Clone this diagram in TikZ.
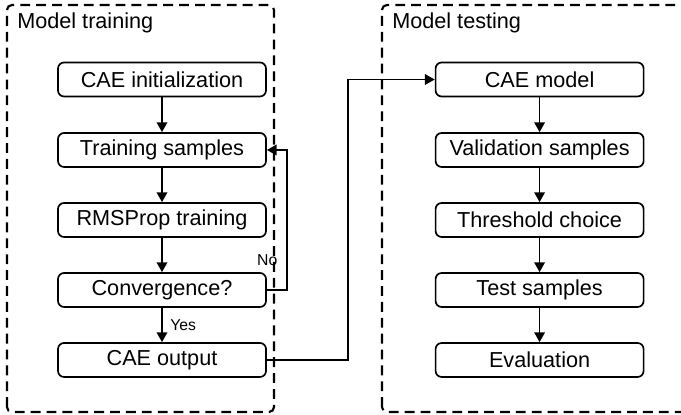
\documentclass[tikz,border=0pt]{standalone}
\usepackage{fontspec}
\setmainfont{Liberation Sans}
\usetikzlibrary{arrows.meta}

\begin{document}
\begin{tikzpicture}[
    >={Triangle[length=7pt,width=7.5pt]},
    stage/.style={draw, line width=1.2pt, rounded corners=4.3pt, minimum width=5.2cm,
        minimum height=0.85cm, inner sep=0pt, font=\fontsize{15.4}{18}\selectfont},
    frame/.style={draw, line width=1.5pt, rounded corners=3.5pt, dash pattern=on 7pt off 4.3pt},
    title/.style={anchor=west, inner sep=0pt, font=\fontsize{15.4}{18}\selectfont},
    flow/.style={line width=1.2pt},
    tag/.style={font=\fontsize{11.2}{13}\selectfont}
]
    \clip (0, 0) rectangle (17.025, 10.375); % page
    % frames
    \draw [frame] (0.175, 0.075) rectangle (6.85, 10.25);
    \draw [frame] (9.55, 0.075) rectangle (18, 10.25);
    \node [title] (0) at (0.425, 9.8) {Model training};
    \node [title] (00) at (9.8, 9.8) {Model testing};
    % model training
    \node [stage] (1) at (4.05, 8.3875) {CAE initialization};
    \node [stage] (2) at (4.05, 6.625) {Training samples};
    \node [stage] (3) at (4.05, 4.875) {RMSProp training};
    \node [stage] (4) at (4.05, 3.125) {Convergence?};
    \node [stage] (5) at (4.05, 1.375) {CAE output};
    \draw [flow, ->] (1) to (2);
    \draw [flow, ->] (2) to (3);
    \draw [flow, ->] (3) to (4);
    \draw [flow, ->] (4) to node[tag, right=2pt] {Yes} (5);
    % loop back
    \coordinate (11) at (7.175, 6.625);
    \draw [flow, ->] (4.east) -| (11) to (2.east);
    \node [tag] (12) at (6.68, 3.875) {No};
    % model testing
    \node [stage] (6) at (13.49, 8.3875) {CAE model};
    \node [stage] (7) at (13.49, 6.625) {Validation samples};
    \node [stage] (8) at (13.49, 4.875) {Threshold choice};
    \node [stage] (9) at (13.49, 3.125) {Test samples};
    \node [stage] (10) at (13.49, 1.375) {Evaluation};
    \draw [flow, ->] (6) to (7);
    \draw [flow, ->] (7) to (8);
    \draw [flow, ->] (8) to (9);
    \draw [flow, ->] (9) to (10);
    % trained model handed over
    \coordinate (13) at (8.7, 8.3875);
    \draw [flow, ->] (5.east) -| (13) to (6.west);
\end{tikzpicture}
\end{document}
